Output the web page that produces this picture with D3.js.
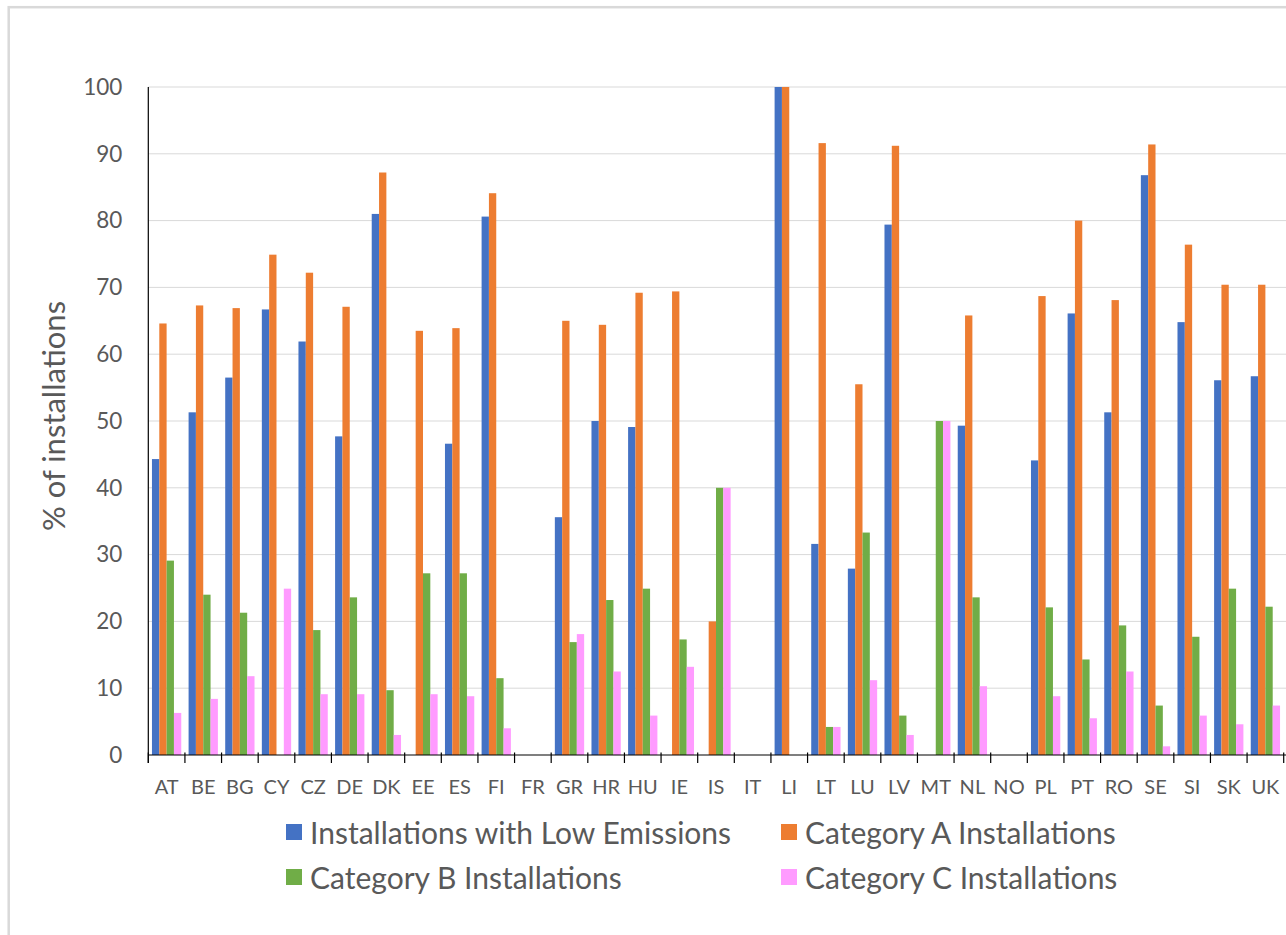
<!DOCTYPE html>
<html>
<head>
<meta charset="utf-8">
<script src="https://cdn.jsdelivr.net/npm/d3@7/dist/d3.min.js"></script>
<style>
  html, body { margin: 0; padding: 0; background: #ffffff; }
  svg { display: block; }
  text { font-family: Lato, "Open Sans", sans-serif; fill: #595959; }
</style>
</head>
<body>
<svg id="chart" width="1286" height="935"></svg>
<script>
const categories = ["AT","BE","BG","CY","CZ","DE","DK","EE","ES","FI","FR","GR","HR","HU","IE","IS","IT","LI","LT","LU","LV","MT","NL","NO","PL","PT","RO","SE","SI","SK","UK"];
const lowEmissions = [44.3,51.3,56.5,66.7,61.9,47.7,81.0,null,46.6,80.6,null,35.6,50.0,49.1,null,null,null,100,31.6,27.9,79.4,null,49.3,null,44.1,66.1,51.3,86.8,64.8,56.1,56.7];
const categoryA   = [64.6,67.3,66.9,74.9,72.2,67.1,87.2,63.5,63.9,84.1,null,65.0,64.4,69.2,69.4,20.0,null,100,91.6,55.5,91.2,null,65.8,null,68.7,80.0,68.1,91.4,76.4,70.4,70.4];
const categoryB   = [29.1,24.0,21.3,null,18.7,23.6,9.7,27.2,27.2,11.5,null,16.9,23.2,24.9,17.3,40.0,null,null,4.2,33.3,5.9,50.0,23.6,null,22.1,14.3,19.4,7.4,17.7,24.9,22.2];
const categoryC   = [6.3,8.4,11.8,24.9,9.1,9.1,3.0,9.1,8.8,4.0,null,18.1,12.5,5.9,13.2,40.0,null,null,4.2,11.2,3.0,50.0,10.3,null,8.8,5.5,12.5,1.3,5.9,4.6,7.4];
const seriesNames = ["Installations with Low Emissions","Category A Installations","Category B Installations","Category C Installations"];
const seriesColors = ["#4472C4","#ED7D31","#70AD47","#FF9BFF"];
const yTicks = [0,10,20,30,40,50,60,70,80,90,100];
const yTitle = "% of installations";

const seriesValues = [lowEmissions, categoryA, categoryB, categoryC];
const rows = [];
categories.forEach((c, i) => {
  seriesValues.forEach((vals, s) => {
    if (vals[i] != null) rows.push({cat: c, s: s, v: vals[i]});
  });
});

const svg = d3.select("#chart");
const L = 148.3, R = 1283.7, T = 87, B = 755;

// outer chart border
svg.append("rect").attr("x", 8.7).attr("y", 7.2).attr("width", 1400).attr("height", 1000)
  .attr("fill", "none").attr("stroke", "#d9d9d9").attr("stroke-width", 2.5);

const x0 = d3.scaleBand().domain(categories).range([L, R]).paddingInner(0).paddingOuter(0);
const bw = x0.bandwidth();
const x1 = d3.scaleBand().domain(d3.range(seriesNames.length)).range([bw * 0.1, bw * 0.9]);
const y = d3.scaleLinear().domain([0, 100]).range([B, T]);

// gridlines
svg.append("g").selectAll("line").data(yTicks.filter(t => t > 0)).join("line")
  .attr("x1", L).attr("x2", 1286)
  .attr("y1", d => y(d)).attr("y2", d => y(d))
  .attr("stroke", "#d9d9d9").attr("stroke-width", 1);

// bars
svg.append("g").selectAll("rect").data(rows).join("rect")
  .attr("x", d => x0(d.cat) + x1(d.s))
  .attr("width", x1.bandwidth())
  .attr("y", d => y(d.v))
  .attr("height", d => y(0) - y(d.v))
  .attr("fill", d => seriesColors[d.s]);

// y axis
const yAxis = d3.axisLeft(y).tickValues(yTicks).tickSize(0).tickPadding(26).tickFormat(d3.format("d"));
const gy = svg.append("g").attr("transform", `translate(${L},0)`).call(yAxis);
gy.select(".domain").remove();
gy.selectAll("text").attr("font-size", 22.5).attr("font-family", "Lato, sans-serif").attr("fill", "#595959");
svg.append("line").attr("x1", L).attr("x2", L).attr("y1", T).attr("y2", B + 8)
  .attr("stroke", "#000").attr("stroke-width", 1.2);

// x axis
const xAxis = d3.axisBottom(x0).tickSize(0).tickPadding(26);
const gx = svg.append("g").attr("transform", `translate(0,${B})`).call(xAxis);
gx.select(".domain").remove();
gx.selectAll("text").attr("font-size", 20).attr("font-family", "Lato, sans-serif").attr("fill", "#595959")
  .attr("dy", "0.32em").attr("y", 33);
svg.append("line").attr("x1", L).attr("x2", 1286).attr("y1", B).attr("y2", B)
  .attr("stroke", "#000").attr("stroke-width", 1.2);
const boundaries = categories.map(c => x0(c)).concat([R]);
svg.append("g").selectAll("line").data(boundaries).join("line")
  .attr("x1", d => d).attr("x2", d => d).attr("y1", B - 2.5).attr("y2", B + 8)
  .attr("stroke", "#000").attr("stroke-width", 1.2);

// y title
svg.append("text").attr("transform", `translate(53,416) rotate(-90)`)
  .attr("text-anchor", "middle").attr("dominant-baseline", "central")
  .attr("font-size", 31).text(yTitle);

// legend
const legendPos = [[286, 832], [781, 832], [286, 877], [781, 877]];
const lg = svg.append("g").selectAll("g").data(seriesNames).join("g")
  .attr("transform", (d, i) => `translate(${legendPos[i][0]},${legendPos[i][1]})`);
lg.append("rect").attr("x", 0).attr("y", -8).attr("width", 16).attr("height", 16)
  .attr("fill", (d, i) => seriesColors[i]);
lg.append("text").attr("x", 24).attr("y", 0).attr("dominant-baseline", "central")
  .attr("font-size", 30).text(d => d);
</script>
</body>
</html>
